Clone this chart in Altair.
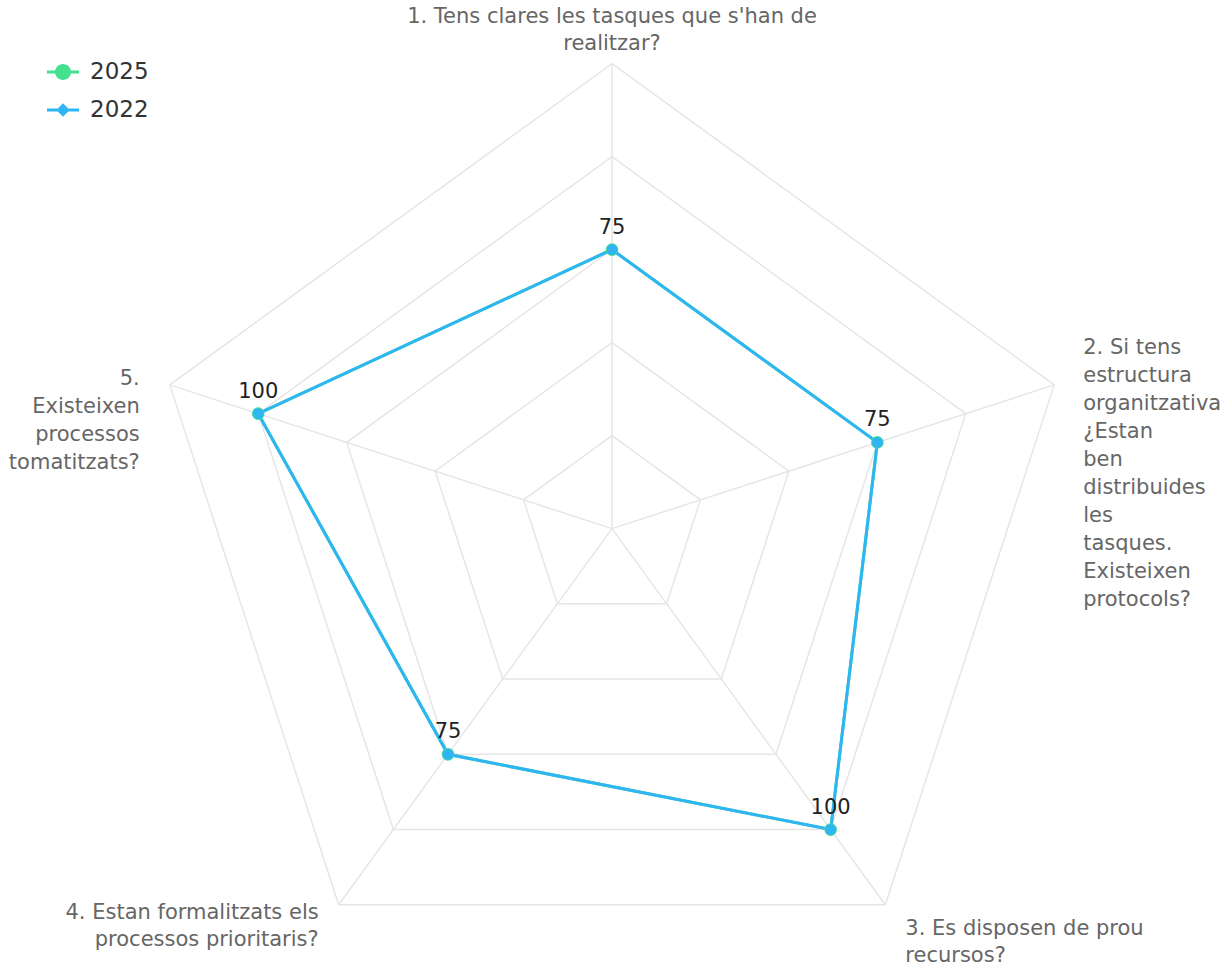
import math
import altair as alt
import pandas as pd

# ---------------- data ----------------
categories = [
    "1. Tens clares les tasques que s'han de realitzar?",
    "2. Si tens estructura organitzativa ¿Estan ben distribuides les tasques. Existeixen protocols?",
    "3. Es disposen de prou recursos?",
    "4. Estan formalitzats els processos prioritaris?",
    "5. Existeixen processos tomatitzats?",
]
category_lines = [
    ["1. Tens clares les tasques que s'han de", "realitzar?"],
    ["2. Si tens", "estructura", "organitzativa", "¿Estan", "ben", "distribuides",
     "les", "tasques.", "Existeixen", "protocols?"],
    ["3. Es disposen de prou", "recursos?"],
    ["4. Estan formalitzats els", "processos prioritaris?"],
    ["5.", "Existeixen", "processos", "tomatitzats?"],
]
years = ["2025", "2022"]
values_2025 = [75, 75, 100, 75, 100]
values_2022 = [75, 75, 100, 75, 100]
grid_levels = [25, 50, 75, 100, 125]
scale_max = 125

# ---------------- styling ----------------
GREEN = "#44e08f"
BLUE = "#2fb5f3"
GRID = "#e6e6e6"
FONT = "DejaVu Sans"
W, H = 1223, 968
CX, CY, RPX = 612, 528.6, 465.0

n = len(categories)

series_df = pd.DataFrame(
    [{"year": "2025", "idx": i, "cat": categories[i], "value": v} for i, v in enumerate(values_2025)]
    + [{"year": "2022", "idx": i, "cat": categories[i], "value": v} for i, v in enumerate(values_2022)]
)
grid_df = pd.DataFrame([{"level": lv, "idx": i} for lv in grid_levels for i in range(n)])
spoke_df = pd.DataFrame({"idx": list(range(n)), "level": [scale_max] * n})
label_df = pd.DataFrame({"idx": list(range(n)), "lines": category_lines, "level": [scale_max] * n})
legend_df = pd.DataFrame({"year": years})

xs = alt.Scale(domain=[-CX / RPX, (W - CX) / RPX], nice=False, zero=False)
ys = alt.Scale(domain=[-(H - CY) / RPX, CY / RPX], nice=False, zero=False)


def polar(chart, field):
    return chart.transform_calculate(
        theta=f"datum.idx * 2 * PI / {n}"
    ).transform_calculate(
        px=f"sin(datum.theta) * datum.{field} / {scale_max}",
        py=f"cos(datum.theta) * datum.{field} / {scale_max}",
    )


X = alt.X("px:Q", scale=xs, axis=None)
Y = alt.Y("py:Q", scale=ys, axis=None)

grid = polar(alt.Chart(grid_df), "level").mark_line(
    interpolate="linear-closed", color=GRID, strokeWidth=1.5
).encode(x=X, y=Y, detail="level:N", order="idx:Q")

spokes = polar(alt.Chart(spoke_df), "level").transform_calculate(zero="0").mark_rule(
    color=GRID, strokeWidth=1.5
).encode(
    x=alt.X("zero:Q", scale=xs, axis=None),
    y=alt.Y("zero:Q", scale=ys, axis=None),
    x2="px:Q",
    y2="py:Q",
)


def series_line(year, color):
    return polar(alt.Chart(series_df).transform_filter(f"datum.year == '{year}'"), "value").mark_line(
        interpolate="linear-closed", color=color, strokeWidth=3
    ).encode(x=X, y=Y, order="idx:Q")


def series_points(year, color, size):
    return polar(alt.Chart(series_df).transform_filter(f"datum.year == '{year}'"), "value").mark_circle(
        color=color, size=size, opacity=1
    ).encode(x=X, y=Y)


line25 = series_line("2025", GREEN)
line22 = series_line("2022", BLUE)
pts25 = series_points("2025", GREEN, 160)
pts22 = series_points("2022", BLUE, 120)

value_labels = polar(alt.Chart(series_df).transform_filter("datum.year == '2022'"), "value").mark_text(
    font=FONT, fontSize=21, color="#222222", dy=-22, baseline="middle", align="center"
).encode(x=X, y=Y, text="value:Q")

# dy places the first line of each label relative to its outer vertex
label_styles = [
    dict(align="center", dx=0, dy=-47, lineHeight=27),
    dict(align="left", dx=29, dy=-37, lineHeight=28),
    dict(align="left", dx=20, dy=24, lineHeight=27),
    dict(align="right", dx=-20, dy=8, lineHeight=27),
    dict(align="right", dx=-30, dy=-6, lineHeight=28),
]
cat_labels = []
for i, st in enumerate(label_styles):
    cat_labels.append(
        polar(alt.Chart(label_df).transform_filter(f"datum.idx == {i}"), "level").mark_text(
            font=FONT, fontSize=21, color="#666666", baseline="middle", **st
        ).encode(x=X, y=Y, text="lines")
    )

circle_path = ("M-1,-0.09H1V0.09H-1Z "
               "M-0.5,0A0.5,0.5 0 1,1 0.5,0A0.5,0.5 0 1,1 -0.5,0Z")
diamond_path = ("M-1,-0.09H1V0.09H-1Z "
                "M0,-0.42L0.42,0L0,0.42L-0.42,0Z")

legend_carrier = alt.Chart(legend_df).transform_filter("false").mark_point(filled=True).encode(
    color=alt.Color("year:N", scale=alt.Scale(domain=years, range=[GREEN, BLUE]),
                    legend=alt.Legend(title=None)),
    shape=alt.Shape("year:N", scale=alt.Scale(domain=years, range=[circle_path, diamond_path]),
                    legend=alt.Legend(title=None)),
)

chart = alt.layer(
    grid, spokes, line25, line22, pts25, pts22, value_labels, *cat_labels, legend_carrier
).properties(
    width=W, height=H, padding=0, autosize="none", background="white"
).configure_view(
    stroke=None
).configure_legend(
    orient="none", legendX=47, legendY=56, padding=0, symbolSize=1024,
    symbolStrokeWidth=0, symbolOpacity=1, labelFont=FONT, labelFontSize=23,
    labelColor="#333333", labelOffset=11, rowPadding=10
)

chart.save("out.html", embed_options={"renderer": "svg", "actions": False})
